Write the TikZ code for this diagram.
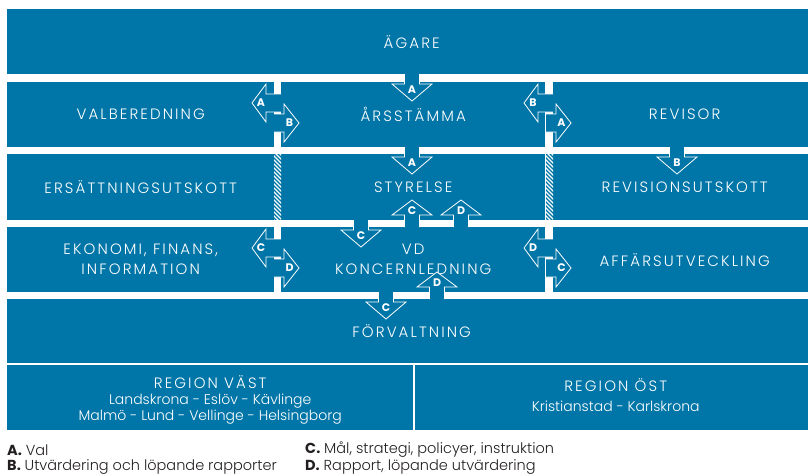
\documentclass[tikz,border=0pt]{standalone}
\usepackage{fontspec}
\setmainfont{Poppins}
\newfontfamily\cellfont{Poppins Light}[LetterSpace=14]
\newfontfamily\narrowfont{Poppins Light}
\usetikzlibrary{positioning}

\definecolor{orgblue}{RGB}{0,117,167}
\definecolor{legendtext}{RGB}{35,31,32}

\tikzstyle{cell} = [rectangle, fill=orgblue, text=white, inner sep=0pt, anchor=north west, align=center, font=\cellfont\fontsize{15}{20}\selectfont]
\tikzstyle{celltext} = [text=white, inner sep=0pt, align=center, font=\narrowfont\fontsize{14}{16}\selectfont]
\tikzstyle{blockarrow} = [fill=orgblue, draw=white, line width=0.8pt, line join=miter]
\tikzstyle{letter} = [text=white, inner sep=0pt, font=\fontsize{11}{11}\selectfont\bfseries]
\tikzstyle{legend} = [anchor=west, inner sep=0pt, text=legendtext, font=\fontsize{14.5}{17}\selectfont]

% arrow pointing down: name, x, top, letter
\newcommand{\arrdown}[4]{%
  \filldraw[blockarrow] (#2-7.5,#3) -- (#2-7.5,#3+10) -- (#2-20,#3+10) -- (#2,#3+27)
    -- (#2+20,#3+10) -- (#2+7.5,#3+10) -- (#2+7.5,#3);
  \node[letter] (#1) at (#2,#3+15.5) {#4};}
% arrow pointing up: name, x, bottom, letter
\newcommand{\arrup}[4]{%
  \filldraw[blockarrow] (#2-7.5,#3) -- (#2-7.5,#3-12) -- (#2-20,#3-12) -- (#2,#3-27)
    -- (#2+20,#3-12) -- (#2+7.5,#3-12) -- (#2+7.5,#3);
  \node[letter] (#1) at (#2,#3-16) {#4};}
% pair of side arrows over a bar: name, bar left, band top, left letter, right letter
\newcommand{\arrsides}[5]{%
  \filldraw[blockarrow] (#2+7,#3+12) -- (#2-8,#3+12) -- (#2-8,#3+2) -- (#2-22,#3+21)
    -- (#2-8,#3+40) -- (#2-8,#3+30) -- (#2+7,#3+30);
  \filldraw[blockarrow] (#2,#3+32) -- (#2+10,#3+32) -- (#2+10,#3+22) -- (#2+25,#3+41)
    -- (#2+10,#3+60) -- (#2+10,#3+50) -- (#2,#3+50);
  \node[letter] (#1l) at (#2-13,#3+21) {#4};
  \node[letter] (#1r) at (#2+15.5,#3+41) {#5};}
% hatched bar: x left, top, bottom
\newcommand{\hatchbar}[3]{%
  \fill[orgblue] (#1,#2) rectangle (#1+7,#3);
  \begin{scope}
    \clip (#1,#2) rectangle (#1+7,#3);
    \foreach \k in {0,4,...,84} \draw[white, line width=1.1pt] (#1-2,#2+\k-12) -- ++(14,14);
  \end{scope}}

\begin{document}
\begin{tikzpicture}[x=1pt, y=-1pt]
  \useasboundingbox (0,0) rectangle (808,475);
  \clip (0,0) rectangle (808,475);

  % bands
  \node[cell, minimum width=809, minimum height=65] (agare) at (7,9) {ÄGARE};

  \node[cell, minimum width=267, minimum height=65] (valberedning) at (7,82) {VALBEREDNING};
  \node[cell, minimum width=264, minimum height=65] (arsstamma) at (281,82) {ÅRSSTÄMMA};
  \node[cell, minimum width=263, minimum height=65] (revisor) at (553,82) {REVISOR};

  \node[cell, minimum width=267, minimum height=66] (ersattning) at (7,154) {ERSÄTTNINGSUTSKOTT};
  \node[cell, minimum width=264, minimum height=66] (styrelse) at (281,154) {STYRELSE};
  \node[cell, minimum width=263, minimum height=66] (revisionsutskott) at (553,154) {REVISIONSUTSKOTT};
  \hatchbar{274}{154}{220}
  \hatchbar{546}{154}{220}

  \node[cell, minimum width=267, minimum height=65] (ekonomi) at (7,227) {EKONOMI, FINANS,\\INFORMATION};
  \node[cell, minimum width=264, minimum height=65] (vd) at (281,227) {VD\\KONCERNLEDNING};
  \node[cell, minimum width=263, minimum height=65] (affars) at (553,227) {AFFÄRSUTVECKLING};

  \node[cell, minimum width=809, minimum height=64] (forvaltning) at (7,299) {FÖRVALTNING};

  % regions
  \node[cell, minimum width=406, minimum height=65] (vast) at (7,365) {};
  \node[cell, minimum width=401, minimum height=65] (ost) at (415,365) {};
  \node[celltext] (vasttext) at ([yshift=-2pt]vast.center)
    {{\cellfont\fontsize{15}{16}\selectfont REGION VÄST}\\Landskrona - Eslöv - Kävlinge\\Malmö - Lund - Vellinge - Helsingborg};
  \node[celltext] (osttext) at ([yshift=3pt]ost.center)
    {{\cellfont\fontsize{15}{16}\selectfont REGION ÖST}\\[4pt]Kristianstad - Karlskrona};

  % arrows
  \arrdown{agareA}{412}{74}{A}
  \arrsides{valA}{274}{82}{A}{B}
  \arrsides{revA}{546}{82}{B}{A}
  \arrdown{stamA}{412}{147}{A}
  \arrdown{revB}{677}{147}{B}
  \arrdown{styrC}{361}{220}{C}
  \arrup{vdC}{412}{227}{C}
  \arrup{vdD}{461}{227}{D}
  \arrsides{ekoC}{274}{227}{C}{D}
  \arrsides{affD}{546}{227}{D}{C}
  \arrdown{vdCdown}{386}{292}{C}
  \arrup{forvD}{437}{299}{D}

  % legend
  \node[legend] (legA) at (7,450) {\textbf{A.} {\narrowfont Val}};
  \node[legend] (legB) at (7,467) {\textbf{B.} {\narrowfont Utvärdering och löpande rapporter}};
  \node[legend] (legC) at (305,450) {\textbf{C.} {\narrowfont Mål, strategi, policyer, instruktion}};
  \node[legend] (legD) at (305,467) {\textbf{D.} {\narrowfont Rapport, löpande utvärdering}};
\end{tikzpicture}
\end{document}
